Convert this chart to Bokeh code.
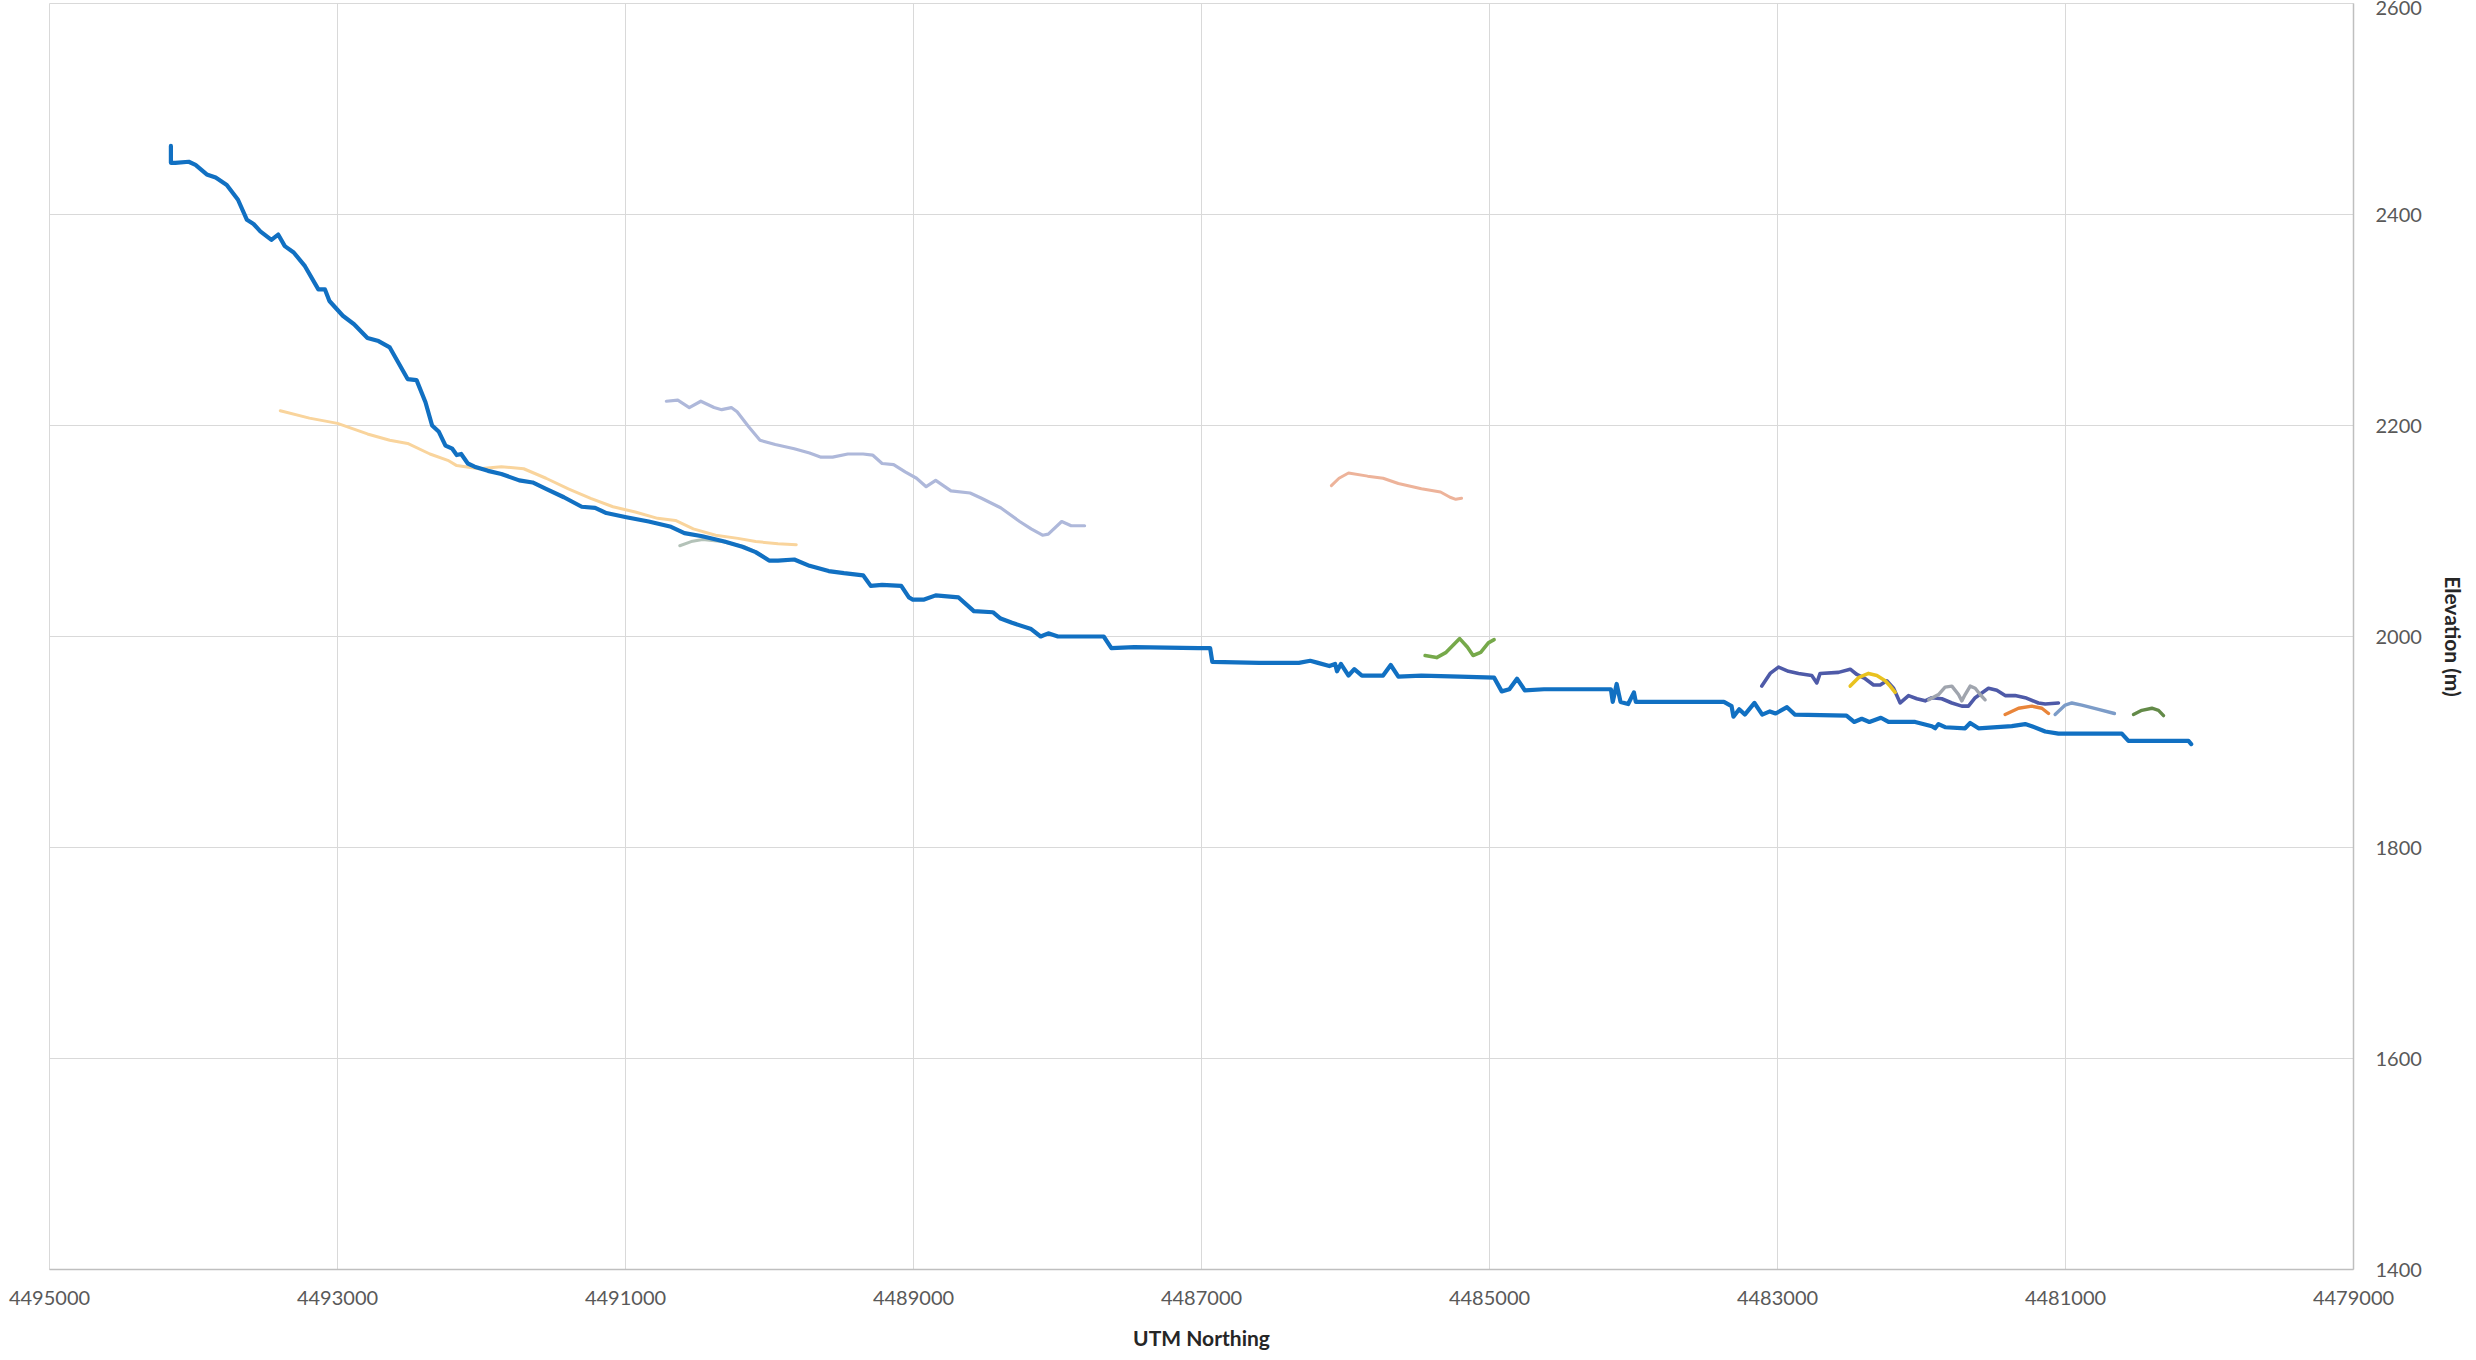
from bokeh.plotting import figure
from bokeh.models import Range1d, FixedTicker, BasicTickFormatter
from bokeh.embed import file_html
from bokeh.resources import INLINE

# ---------------- data ----------------
x_ticks = [4495000, 4493000, 4491000, 4489000, 4487000, 4485000, 4483000, 4481000, 4479000]
y_ticks = [1400, 1600, 1800, 2000, 2200, 2400, 2600]

main_x = [4494157, 4494157, 4494126, 4494033, 4493986, 4493908, 4493846, 4493769, 4493691, 4493629,
          4493583, 4493536, 4493459, 4493412, 4493366, 4493304, 4493226, 4493133, 4493087, 4493056,
          4492963, 4492885, 4492792, 4492715, 4492637, 4492513, 4492451, 4492389, 4492343, 4492296,
          4492250, 4492203, 4492172, 4492141, 4492095, 4492048, 4491955, 4491862, 4491738, 4491645,
          4491552, 4491428, 4491304, 4491211, 4491133, 4490994, 4490839, 4490684, 4490591, 4490467,
          4490313, 4490189, 4490096, 4490003, 4489941, 4489828, 4489722, 4489589, 4489483, 4489350,
          4489297, 4489218, 4489085, 4489032, 4489005, 4488926, 4488846, 4488687, 4488581, 4488449,
          4488395, 4488316, 4488183, 4488117, 4488064, 4487997, 4487679, 4487626, 4487467, 4487021,
          4486940, 4486925, 4486600, 4486324, 4486245, 4486191, 4486112, 4486072, 4486059, 4486032,
          4485979, 4485939, 4485886, 4485739, 4485686, 4485633, 4485473, 4485207, 4484968, 4484915,
          4484862, 4484809, 4484755, 4484622, 4484157, 4484144, 4484117, 4484090, 4484037, 4483997,
          4483984, 4483372, 4483319, 4483306, 4483266, 4483227, 4483160, 4483106, 4483053, 4483013,
          4482934, 4482880, 4482521, 4482468, 4482415, 4482362, 4482282, 4482229, 4482044, 4481928,
          4481905, 4481882, 4481836, 4481697, 4481662, 4481604, 4481373, 4481280, 4481234, 4481141,
          4481049, 4480817, 4480609, 4480563, 4480308, 4480146, 4480127]
main_y = [2465, 2449, 2449, 2450, 2447, 2438, 2435, 2428, 2414, 2395,
          2391, 2384, 2376, 2381, 2370, 2364, 2351, 2329, 2329, 2318,
          2304, 2296, 2283, 2280, 2274, 2244, 2243, 2222, 2200, 2194,
          2181, 2178, 2172, 2173, 2164, 2161, 2157, 2154, 2148, 2146,
          2140, 2132, 2123, 2122, 2117, 2113, 2109, 2104, 2098, 2095,
          2090, 2085, 2080, 2072, 2072, 2073, 2067, 2062, 2060, 2058,
          2048, 2049, 2048, 2037, 2035, 2035, 2039, 2037, 2024, 2023,
          2017, 2013, 2007, 2000, 2003, 2000, 2000, 1989, 1990, 1989,
          1989, 1976, 1975, 1975, 1977, 1975, 1972, 1974, 1967, 1974,
          1963, 1969, 1963, 1963, 1973, 1962, 1963, 1962, 1961, 1948,
          1950, 1960, 1949, 1950, 1950, 1938, 1955, 1938, 1936, 1947,
          1938, 1938, 1934, 1924, 1931, 1926, 1937, 1926, 1929, 1927,
          1933, 1926, 1925, 1919, 1922, 1919, 1923, 1919, 1919, 1915,
          1913, 1917, 1914, 1913, 1918, 1913, 1915, 1917, 1915, 1910,
          1908, 1908, 1908, 1901, 1901, 1901, 1898]

tan_x = [4493397, 4493195, 4493000, 4492792, 4492637, 4492513, 4492358, 4492234, 4492172, 4492017,
         4491862, 4491707, 4491552, 4491397, 4491242, 4491087, 4490932, 4490777, 4490653, 4490529,
         4490374, 4490219, 4490096, 4489941, 4489814]
tan_y = [2214, 2207, 2202, 2192, 2186, 2183, 2173, 2167, 2162, 2159,
         2161, 2159, 2150, 2140, 2131, 2123, 2118, 2112, 2110, 2102,
         2096, 2093, 2090, 2088, 2087]

lavender_x = [4490716, 4490637, 4490557, 4490477, 4490385, 4490332, 4490265, 4490225, 4490146, 4490066,
              4489960, 4489828, 4489722, 4489642, 4489562, 4489456, 4489350, 4489284, 4489218, 4489138,
              4489058, 4488979, 4488912, 4488846, 4488740, 4488607, 4488528, 4488395, 4488263, 4488183,
              4488104, 4488064, 4487971, 4487905, 4487812]
lavender_y = [2223, 2224, 2217, 2223, 2217, 2215, 2217, 2213, 2199, 2186,
              2182, 2178, 2174, 2170, 2170, 2173, 2173, 2172, 2164, 2163,
              2156, 2150, 2142, 2148, 2138, 2136, 2131, 2122, 2109, 2102,
              2096, 2097, 2109, 2105, 2105]

graygreen_x = [4490623, 4490544, 4490464, 4490332, 4490172, 4490093, 4490013]
graygreen_y = [2086, 2090, 2092, 2090, 2085, 2080, 2073]

salmon_x = [4486098, 4486045, 4485979, 4485846, 4485739, 4485633, 4485473, 4485340, 4485274, 4485234, 4485194]
salmon_y = [2143, 2150, 2155, 2152, 2150, 2145, 2140, 2137, 2132, 2130, 2131]

green_x = [4485447, 4485367, 4485301, 4485207, 4485154, 4485114, 4485061, 4485008, 4484968]
green_y = [1982, 1980, 1985, 1998, 1990, 1982, 1985, 1994, 1997]

slate_x = [4483109, 4483051, 4482993, 4482924, 4482854, 4482762, 4482727, 4482704, 4482576, 4482495,
           4482449, 4482391, 4482333, 4482287, 4482241, 4482194, 4482148, 4482090, 4482032, 4481975,
           4481928, 4481859, 4481789, 4481720, 4481674, 4481627, 4481535, 4481477, 4481419, 4481350,
           4481280, 4481188, 4481141, 4481049]
slate_y = [1953, 1965, 1971, 1967, 1965, 1963, 1956, 1965, 1966, 1969,
           1964, 1960, 1954, 1954, 1958, 1951, 1937, 1944, 1941, 1939,
           1942, 1941, 1937, 1934, 1934, 1942, 1951, 1949, 1944, 1944,
           1942, 1937, 1936, 1937]

yellow_x = [4482495, 4482438, 4482368, 4482310, 4482252, 4482218, 4482183]
yellow_y = [1953, 1961, 1965, 1963, 1958, 1953, 1947]

gray_x = [4481950, 4481882, 4481836, 4481789, 4481743, 4481720, 4481697, 4481662, 4481627, 4481593, 4481558]
gray_y = [1940, 1945, 1952, 1953, 1945, 1939, 1945, 1953, 1951, 1945, 1940]

orange_x = [4481419, 4481326, 4481234, 4481164, 4481118]
orange_y = [1926, 1932, 1934, 1932, 1927]

steel_x = [4481072, 4481002, 4480956, 4480887, 4480771, 4480660]
steel_y = [1926, 1935, 1937, 1935, 1931, 1927]

olive_x = [4480528, 4480470, 4480400, 4480354, 4480319]
olive_y = [1926, 1930, 1932, 1930, 1925]

# ---------------- figure ----------------
p = figure(width=2468, height=1352, output_backend="svg", toolbar_location=None,
           x_range=Range1d(4495000, 4479000), y_range=Range1d(1400, 2600),
           y_axis_location="right",
           min_border_left=49, min_border_right=114, min_border_top=3, min_border_bottom=82)
p.background_fill_color = "white"
p.border_fill_color = "white"
p.outline_line_color = "#D9D9D9"
p.outline_line_width = 1

GRID = "#D9D9D9"
FONT = "Lato"
for g in (p.xgrid, p.ygrid):
    g.grid_line_color = GRID
    g.grid_line_width = 1

p.xaxis.ticker = FixedTicker(ticks=x_ticks)
p.yaxis.ticker = FixedTicker(ticks=y_ticks)
p.xaxis.formatter = BasicTickFormatter(use_scientific=False)
p.yaxis.formatter = BasicTickFormatter(use_scientific=False)

for ax in (p.xaxis, p.yaxis):
    ax.axis_line_color = "#BFBFBF"
    ax.axis_line_width = 1.5
    ax.major_tick_line_color = None
    ax.minor_tick_line_color = None
    ax.major_label_text_font = FONT
    ax.major_label_text_font_size = "20px"
    ax.major_label_text_color = "#595959"
    ax.axis_label_text_font = FONT
    ax.axis_label_text_font_size = "21px"
    ax.axis_label_text_font_style = "bold"
    ax.axis_label_text_color = "#262626"

p.xaxis.axis_label = "UTM Northing"
p.yaxis.axis_label = "Elevation (m)"
p.xaxis.major_label_standoff = 21
p.xaxis.axis_label_standoff = 17
p.yaxis.major_label_standoff = 22
p.yaxis.axis_label_standoff = 16
p.xaxis.major_tick_out = 0
p.yaxis.major_tick_out = 0

series = [
    (tan_x, tan_y, "#F9D49C", 3.0),
    (lavender_x, lavender_y, "#AEB8DA", 3.2),
    (graygreen_x, graygreen_y, "#B3C2B8", 3.0),
    (main_x, main_y, "#1170C2", 4.2),
    (salmon_x, salmon_y, "#EDB39A", 3.0),
    (green_x, green_y, "#76A94A", 3.6),
    (slate_x, slate_y, "#4E5AA8", 3.6),
    (yellow_x, yellow_y, "#E9C21F", 3.6),
    (gray_x, gray_y, "#A0A5AE", 3.4),
    (orange_x, orange_y, "#E9853A", 3.4),
    (steel_x, steel_y, "#7C9CC8", 3.4),
    (olive_x, olive_y, "#638A48", 3.4),
]
for xs, ys, col, w in series:
    p.line(xs, ys, line_color=col, line_width=w, line_join="round", line_cap="round")

open("out.html", "w").write(file_html(p, INLINE))
